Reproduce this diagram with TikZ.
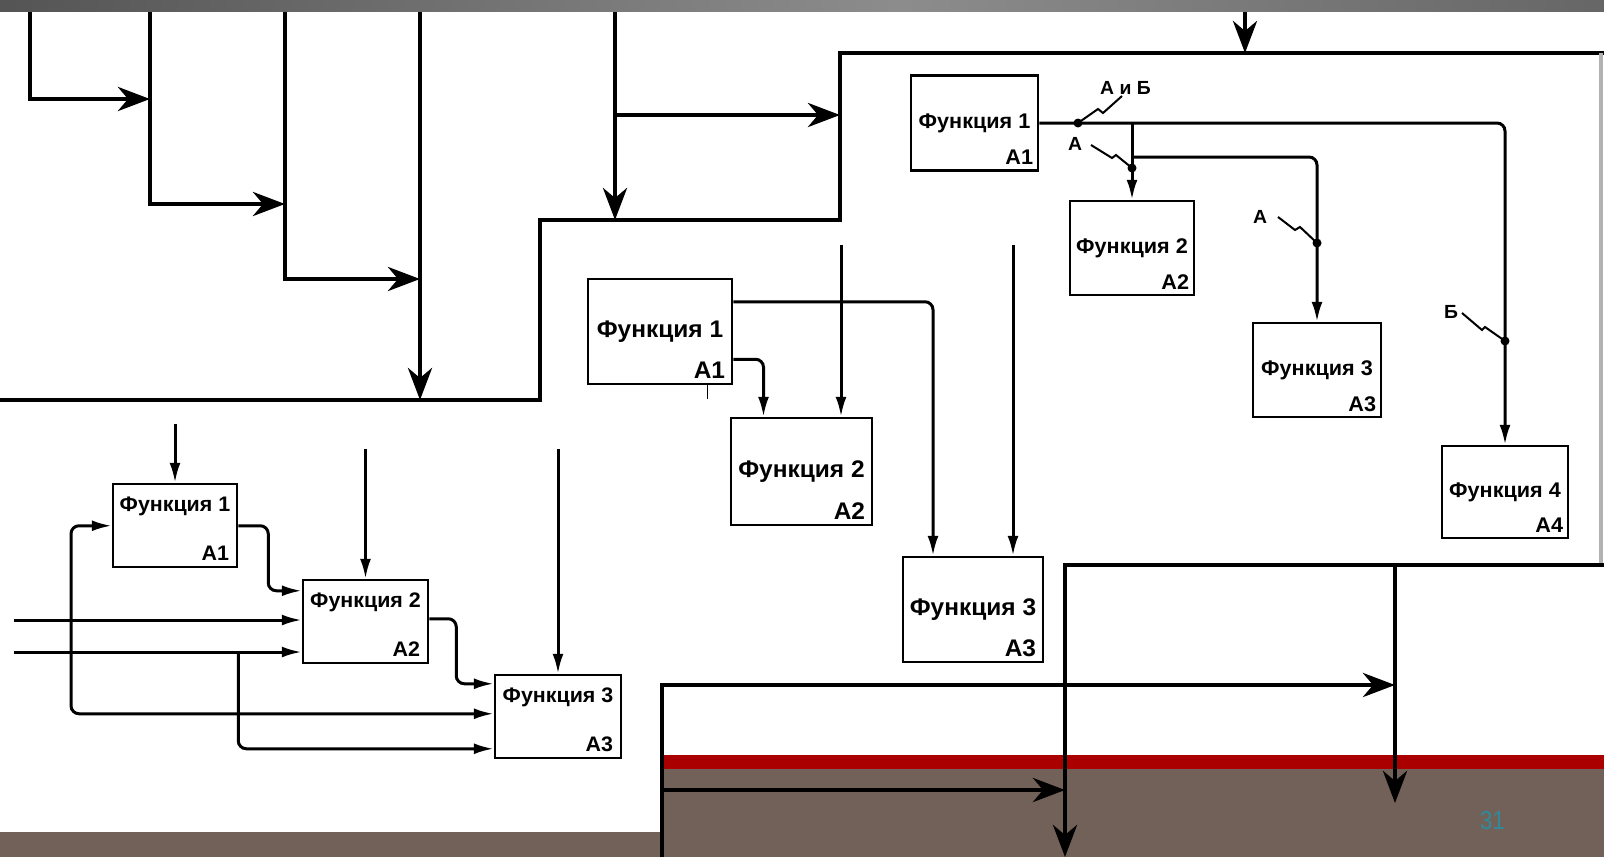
\documentclass[tikz,border=0pt]{standalone}
\usepackage{fontspec}
\setmainfont{Liberation Sans}
\newfontfamily\scanfont[FakeStretch=1.02]{Liberation Sans Bold}
\newfontfamily\numfont[FakeStretch=0.85]{Liberation Sans}
\usetikzlibrary{arrows.meta}
\definecolor{slidebrown}{RGB}{114,97,88}
\definecolor{slidered}{RGB}{170,0,0}
\definecolor{pagenum}{RGB}{47,138,156}
\pgfdeclarehorizontalshading{topbar}{100bp}{color(0bp)=(black!40); color(21bp)=(black!70); color(53bp)=(black!45); color(90bp)=(black!70); color(100bp)=(black!30)}
\newcommand\fsb{\scanfont\fontsize{21.2}{23}\selectfont}
\newcommand\fsc{\scanfont\fontsize{24}{26}\selectfont}
\newcommand\fsd{\scanfont\fontsize{21}{23}\selectfont}
\newcommand\fst{\scanfont\fontsize{19}{20}\selectfont}

\begin{document}
\begin{tikzpicture}[x=1pt,y=-1pt,
  frame/.style={line width=4.5pt},
  bigarrow/.style={-{Stealth[length=32pt,width=24pt,inset=10pt]}},
  wire/.style={line width=3pt,rounded corners=8pt},
  warrow/.style={-{Latex[length=20pt,width=11pt]}},
  func/.style={draw,line width=2.5pt,inner sep=0pt,fill=white},
  d2num/.style={anchor=base east,inner sep=0pt,xshift=-6pt,yshift=7pt,font=\fsb},
  d3num/.style={anchor=base east,inner sep=0pt,xshift=-8pt,yshift=7pt,font=\fsc},
  d4num/.style={anchor=base east,inner sep=0pt,xshift=-9pt,yshift=8pt,font=\fsd},
  d4name/.style={anchor=base,inner sep=0pt,yshift=-29pt,font=\fsd},
  dot/.style={circle,fill,inner sep=0pt,minimum size=9pt},
  zig/.style={line width=2pt},
  tag/.style={inner sep=0pt,anchor=base west,font=\fst}]
\useasboundingbox (0,0) rectangle (1604,857);
% slide background
\fill[white] (0,0) rectangle (1604,857);
\fill[slidered] (0,755) rectangle (1604,769);
\fill[slidebrown] (0,769) rectangle (1604,857);
\fill[white] (0,400) rectangle (660,832);
\node[font=\numfont\fontsize{26}{28}\selectfont,text=pagenum,anchor=base west,inner sep=0pt] (pnum) at (1480,829) {31};

% outer frame
\draw[frame] (0,400) -- (540,400) -- (540,220) -- (840,220) -- (840,53) -- (1604,53);
\draw[gray!60,line width=4pt] (1601,53) -- (1601,565);
\draw[frame,bigarrow] (1604,565) -- (1065,565) -- (1065,857);
\draw[frame,bigarrow] (1395,565) -- (1395,803);
\draw[frame,bigarrow] (662,857) -- (662,685) -- (1395,685);
\draw[frame,bigarrow] (662,790) -- (1065,790);
% stairs at the top left
\draw[frame,bigarrow] (30,11) -- (30,99) -- (150,99);
\draw[frame,bigarrow] (150,11) -- (150,204) -- (285,204);
\draw[frame,bigarrow] (285,11) -- (285,279) -- (420,279);
\draw[frame,bigarrow] (420,11) -- (420,400);
\draw[frame,bigarrow] (615,11) -- (615,220);
\draw[frame,bigarrow] (615,115) -- (840,115);
\draw[frame,bigarrow] (1245,11) -- (1245,53);
\shade[shading=topbar] (0,0) rectangle (1604,11);

% upper right: branching with labels
\node[func,font=\fsb,minimum width=127pt,minimum height=95pt,label={[d2num]south east:A1}] (d2f1) at (974.5,123) {Функция 1};
\node[func,font=\fsb,minimum width=124pt,minimum height=94pt,label={[d2num]south east:A2}] (d2f2) at (1132,248) {Функция 2};
\node[func,font=\fsb,minimum width=128pt,minimum height=94pt,label={[d2num]south east:A3}] (d2f3) at (1317,370) {Функция 3};
\node[func,font=\fsb,minimum width=126pt,minimum height=92pt,label={[d2num]south east:A4}] (d2f4) at (1505,492) {Функция 4};
\coordinate (d2s) at (d2f2.north |- d2f1.east);
\draw[wire,warrow] (d2f1.east) -| (d2f4.north);
\draw[wire,warrow] (d2s) -- (d2f2.north);
\draw[wire,warrow] ([yshift=-34pt]d2s) -| (d2f3.north);
\node[dot] (d2j1) at (1078,123) {};
\node[dot] (d2j2) at (1132,168) {};
\node[dot] (d2j3) at (1317,243) {};
\node[dot] (d2j4) at (1505,341) {};
\draw[zig] (d2j1.center) -- ++(20,-14) -- ++(5,4) -- ++(19,-17);
\draw[zig] (d2j2.center) -- ++(-16,-13) -- ++(-4,3) -- ++(-21,-13);
\draw[zig] (d2j3.center) -- ++(-17,-16) -- ++(-5,3) -- ++(-17,-13);
\draw[zig] (d2j4.center) -- ++(-20,-14) -- ++(-3,3) -- ++(-20,-17);
\node[tag] (d2l1) at (1100,94) {А и Б};
\node[tag] (d2l2) at (1068,150) {А};
\node[tag] (d2l3) at (1253,223) {А};
\node[tag] (d2l4) at (1444,318) {Б};

% middle: two outputs of one box
\node[func,font=\fsc,minimum width=144pt,minimum height=105pt,label={[d3num]south east:A1}] (d3f1) at (660,331.5) {Функция 1};
\node[func,font=\fsc,minimum width=141pt,minimum height=107pt,label={[d3num]south east:A2}] (d3f2) at (801.5,471.5) {Функция 2};
\node[func,font=\fsc,minimum width=140pt,minimum height=105pt,label={[d3num]south east:A3}] (d3f3) at (973,609.5) {Функция 3};
\draw[wire,warrow] ([yshift=-24pt]d3f1.north east) -| ([xshift=-40pt]d3f3.north);
\draw[wire,warrow] ([yshift=26pt]d3f1.south east) -| ([xshift=-38pt]d3f2.north);
\draw[wire,warrow] ([xshift=39.5pt,yshift=172pt]d3f2.north) -- ([xshift=39.5pt]d3f2.north);
\draw[wire,warrow] ([xshift=40pt,yshift=311pt]d3f3.north) -- ([xshift=40pt]d3f3.north);
\draw[line width=1.5pt] ([xshift=-26pt]d3f1.south east) -- ++(0,14);

% lower left: inputs split between boxes
\node[func,minimum width=124pt,minimum height=83pt,label={[d4name]north:Функция 1},label={[d4num]south east:A1}] (d4f1) at (175,525.5) {};
\node[func,minimum width=125pt,minimum height=83pt,label={[d4name]north:Функция 2},label={[d4num]south east:A2}] (d4f2) at (365.5,621.5) {};
\node[func,minimum width=126pt,minimum height=83pt,label={[d4name]north:Функция 3},label={[d4num]south east:A3}] (d4f3) at (558,716.5) {};
\coordinate (d4in1) at (14,620);
\coordinate (d4in2) at (14,652);
\draw[wire,warrow] ([yshift=59pt]d4f1.north) -- (d4f1.north);
\draw[wire,warrow] ([yshift=130pt]d4f2.north) -- (d4f2.north);
\draw[wire,warrow] ([yshift=225pt]d4f3.north) -- (d4f3.north);
\draw[wire,warrow] ([yshift=-43pt]d4f1.north east) -- ++(30,0) |- ([yshift=-12pt]d4f2.north west);
\draw[wire,warrow] ([yshift=-40pt]d4f2.north east) -- ++(27,0) |- ([yshift=-10pt]d4f3.north west);
\draw[wire,warrow] (d4in1) -- (d4in1 -| d4f2.west);
\draw[wire,warrow] (d4in2) -- (d4in2 -| d4f2.west);
\draw[wire,warrow] ([xshift=57pt]d4in1) |- ([yshift=-43pt]d4f1.north west);
\draw[wire,warrow] ([xshift=57pt]d4in1) |- ([yshift=-40pt]d4f3.north west);
\draw[wire,warrow] (d4f1.south east |- d4in2) |- ([yshift=-75pt]d4f3.north west);
\end{tikzpicture}
\end{document}
